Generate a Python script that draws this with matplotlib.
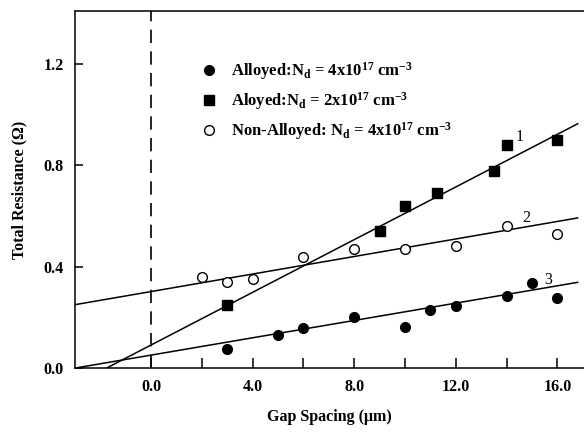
import numpy as np
import matplotlib
matplotlib.use("Agg")
import matplotlib.pyplot as plt

plt.rcParams['font.family'] = ['Liberation Serif', 'DejaVu Serif']
plt.rcParams['mathtext.fontset'] = 'custom'
plt.rcParams['mathtext.rm'] = 'Liberation Serif:bold'
plt.rcParams['mathtext.bf'] = 'Liberation Serif:bold'
plt.rcParams['mathtext.it'] = 'Liberation Serif:bold'

# ---- data ----
alloyed4_x = [3, 5, 6, 8, 10, 11, 12, 14, 15, 16]
alloyed4_y = [0.074, 0.129, 0.158, 0.203, 0.162, 0.228, 0.246, 0.284, 0.334, 0.276]

alloyed2_x = [3, 9, 10, 11.25, 13.5, 14, 16]
alloyed2_y = [0.25, 0.54, 0.64, 0.69, 0.78, 0.88, 0.90]

nonalloyed_x = [2, 3, 4, 6, 8, 10, 12, 14, 16]
nonalloyed_y = [0.36, 0.34, 0.35, 0.44, 0.47, 0.47, 0.48, 0.56, 0.53]

# fitted lines (slope, intercept) as drawn in the reference: lines 1, 2, 3
fit_slopes = [0.052, 0.0173, 0.0171]
fit_intercepts = [0.091, 0.302, 0.051]
fit_range = [-3.0, 16.8]
line_labels = ["1", "2", "3"]
line_label_x = [14.52, 14.79, 15.64]
line_label_y = [0.912, 0.591, 0.348]

legend_labels = [
    r'Alloyed:N$_{\mathbf{d}}$ = 4x10$^{\mathbf{17}}$ cm$^{\mathbf{-3}}$',
    r'Aloyed:N$_{\mathbf{d}}$ = 2x10$^{\mathbf{17}}$ cm$^{\mathbf{-3}}$',
    r'Non-Alloyed: N$_{\mathbf{d}}$ = 4x10$^{\mathbf{17}}$ cm$^{\mathbf{-3}}$',
]

x_ticks = [0, 2, 4, 6, 8, 10, 12, 14, 16]
x_ticklabels = ["0.0", "", "4.0", "", "8.0", "", "12.0", "", "16.0"]
y_ticks = [0.0, 0.4, 0.8, 1.2]
y_ticklabels = ["0.0", "0.4", "0.8", "1.2"]

fig = plt.figure(figsize=(5.84, 4.32), dpi=100)
ax = fig.add_axes([75/584, 1 - 368/432, 509/584, 357/432])

ax.set_xlim(-3, 17.05)
ax.set_ylim(0, 1.41)

# fitted lines
xs = np.array(fit_range)
for m, b in zip(fit_slopes, fit_intercepts):
    ax.plot(xs, m * xs + b, color='black', lw=1.1, zorder=2)

# dashed vertical line at x = 0
ax.axvline(0, color='black', lw=1.2, dashes=(8, 5), zorder=1)

ax.plot(alloyed4_x, alloyed4_y, 'o', ms=7, color='black', mec='black',
        label=legend_labels[0], zorder=3)
ax.plot(alloyed2_x, alloyed2_y, 's', ms=6.5, color='black', mec='black',
        label=legend_labels[1], zorder=3)
ax.plot(nonalloyed_x, nonalloyed_y, 'o', ms=7, mfc='white', mec='black',
        mew=1.0, label=legend_labels[2], zorder=3)

for t, lx, ly in zip(line_labels, line_label_x, line_label_y):
    ax.text(lx, ly, t, fontsize=11.5, ha='center', va='center')

leg = ax.legend(loc='upper left', bbox_to_anchor=(0.248, 0.862), frameon=False,
                numpoints=1, handlelength=0.95, handletextpad=0.85,
                labelspacing=0.48, borderpad=0, borderaxespad=0,
                prop={'family': 'Liberation Serif', 'weight': 'bold', 'size': 12})

ax.spines['right'].set_visible(False)
for s in ['left', 'bottom', 'top']:
    ax.spines[s].set_linewidth(1.1)

ax.set_xticks(x_ticks)
ax.set_xticklabels(x_ticklabels)
ax.set_yticks(y_ticks)
ax.set_yticklabels(y_ticklabels)
ax.tick_params(axis='x', direction='in', length=7, width=1.1, pad=8)
ax.tick_params(axis='y', direction='in', length=6, width=1.1, pad=8)
for lab in ax.get_xticklabels() + ax.get_yticklabels():
    lab.set_fontweight('bold')
    lab.set_fontsize(11.5)

ax.set_xlabel('Gap Spacing (\u03bcm)', fontsize=11.5, fontweight='bold', labelpad=10)
ax.set_ylabel('Total Resistance (\u03a9)', fontsize=11.5, fontweight='bold', labelpad=12)

fig.savefig('out.png', dpi=100)
